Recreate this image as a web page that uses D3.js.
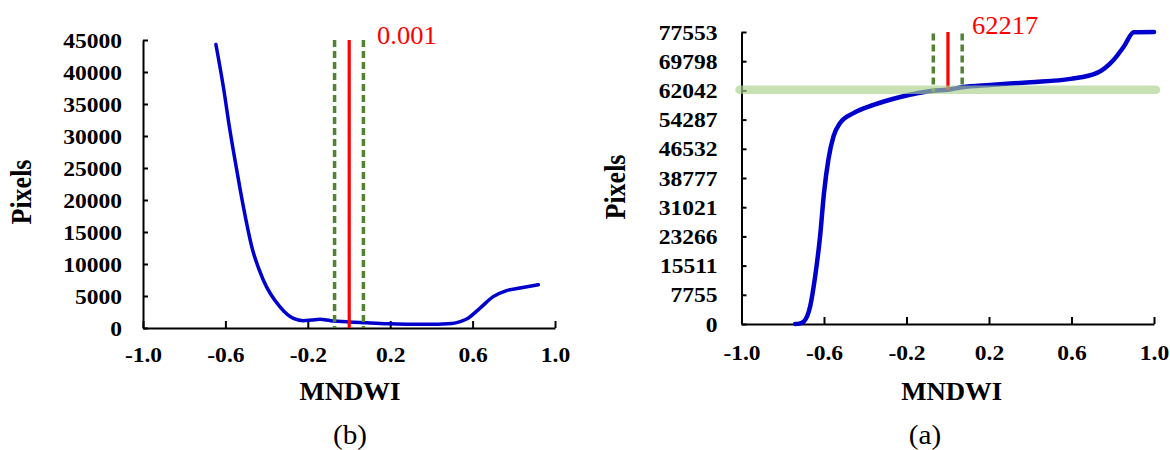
<!DOCTYPE html>
<html><head><meta charset="utf-8">
<script src="https://cdn.jsdelivr.net/npm/d3@7"></script>
<style>
body{margin:0;background:#fff}
svg{display:block}
text{font-family:"Liberation Serif","Times New Roman",serif}
</style>
</head><body>
<svg id="chart" width="1170" height="450"></svg>
<script>
// ---------- data ----------
const xTickValues = [-1.0, -0.6, -0.2, 0.2, 0.6, 1.0];
const leftYTicks = [0, 5000, 10000, 15000, 20000, 25000, 30000, 35000, 40000, 45000];
const rightYTicks = [0, 7755, 15511, 23266, 31021, 38777, 46532, 54287, 62042, 69798, 77553];

// (b) histogram-like curve
const leftCurveX = [-0.646, -0.61, -0.578, -0.545, -0.513, -0.472, -0.416, -0.335, -0.27, -0.222, -0.18, -0.141, -0.09, 0.0, 0.086, 0.2, 0.31, 0.4, 0.5, 0.54, 0.571, 0.636, 0.7, 0.765, 0.83, 0.919];
const leftCurveY = [44300, 37700, 30900, 24700, 19000, 12700, 7500, 3300, 1500, 1150, 1250, 1350, 1150, 950, 830, 650, 580, 600, 720, 1000, 1400, 3100, 4900, 5850, 6250, 6750];

// (a) cumulative curve
const rightCurveX = [-0.74, -0.72, -0.697, -0.667, -0.643, -0.619, -0.6, -0.579, -0.554, -0.522, -0.457, -0.36, -0.23, -0.072, 0.0, 0.069, 0.206, 0.4, 0.595, 0.724, 0.805, 0.854, 0.902, 1.0];
const rightCurveY = [0, 100, 700, 4700, 12600, 23300, 34800, 43600, 49800, 53400, 56000, 58200, 60300, 61960, 62217, 62900, 63500, 64200, 65100, 66700, 70200, 73700, 77500, 77553];

const thresholdX = 0.001;
const thresholdBand = [-0.07, 0.07];
const leftThresholdLabel = "0.001";
const rightThresholdValue = 62217;
const rightThresholdLabel = "62217";
const leftYMax = 45000;
const rightYMax = 77553;
const axisTitleX = "MNDWI";
const axisTitleY = "Pixels";
const panelLabels = ["(b)", "(a)"];

// ---------- drawing ----------
const svg = d3.select("#chart");
const TICK_FONT = 22, TICK_SX = 1.07;

function drawAxes(g, x, y, yTicks, xPad, yPad, y0) {
  const xa = d3.axisBottom(x).tickValues(xTickValues).tickSizeInner(-7).tickSizeOuter(0)
    .tickPadding(xPad).tickFormat(d => d.toFixed(1));
  const ya = d3.axisLeft(y).tickValues(yTicks).tickSizeInner(-5).tickSizeOuter(0)
    .tickPadding(yPad).tickFormat(d => String(d));
  const gx = g.append("g").attr("transform", `translate(0,${y0})`).call(xa);
  const gy = g.append("g").attr("transform", `translate(${x.range()[0]},0)`).call(ya);
  [gx, gy].forEach(a => {
    a.select(".domain").attr("stroke", "#000").attr("stroke-width", 2);
    a.selectAll(".tick line").attr("stroke", "#000").attr("stroke-width", 2);
    a.selectAll(".tick text").attr("fill", "#000")
      .style("font-family", '"Liberation Serif","Times New Roman",serif')
      .style("font-weight", "bold").style("font-size", TICK_FONT + "px")
      .attr("transform", `scale(${TICK_SX},1)`);
  });
}

function panel(cfg) {
  const g = svg.append("g");
  const x = d3.scaleLinear().domain([-1, 1]).range(cfg.xr);
  const y = d3.scaleLinear().domain([0, cfg.ymax]).range(cfg.yr);
  const y0 = cfg.yr[0];

  drawAxes(g, x, y, cfg.yTicks, cfg.xPad, cfg.yPad, y0);

  const line = d3.line().x(d => x(d[0])).y(d => y(d[1])).curve(d3.curveMonotoneX);
  const pts = cfg.cx.map((v, i) => [v, cfg.cy[i]]);
  g.append("path").datum(pts).attr("d", line).attr("fill", "none")
    .attr("stroke", "#0000cc").attr("stroke-width", cfg.lw).attr("stroke-linecap", "round");

  // threshold lines
  const top = cfg.lineTop, bottom = cfg.lineBottom;
  thresholdBand.forEach(v => {
    g.append("line").attr("x1", x(v)).attr("x2", x(v))
      .attr("y1", top(v, y)).attr("y2", bottom(v, y))
      .attr("stroke", "#548235").attr("stroke-width", 3.5).attr("stroke-dasharray", "7,4");
  });
  g.append("line").attr("x1", x(thresholdX)).attr("x2", x(thresholdX))
    .attr("y1", top(thresholdX, y)).attr("y2", bottom(thresholdX, y))
    .attr("stroke", "#ff0000").attr("stroke-width", 3.2);

  if (cfg.band != null) {
    g.append("line").attr("x1", x(-1) - 2).attr("x2", x(1) + 2)
      .attr("y1", y(cfg.band)).attr("y2", y(cfg.band))
      .attr("stroke", "#a9d18e").attr("stroke-opacity", 0.65)
      .attr("stroke-width", 8.5).attr("stroke-linecap", "round");
  }

  // threshold label
  g.append("text").attr("transform", `translate(${cfg.labelPos[0]},${cfg.labelPos[1]}) scale(1.04,1)`)
    .attr("fill", "#ff0000").style("font-size", "25.5px").text(cfg.label);

  // axis titles
  const cx = (cfg.xr[0] + cfg.xr[1]) / 2;
  g.append("text").attr("transform", `translate(${cx + cfg.titleDx},${cfg.titleY}) scale(1.05,1)`)
    .attr("text-anchor", "middle").style("font-weight", "bold").style("font-size", "25.5px")
    .text(axisTitleX);
  g.append("text").attr("transform", `translate(${cfg.yTitlePos[0]},${cfg.yTitlePos[1]}) scale(1.1,1) rotate(-90)`)
    .attr("text-anchor", "middle").attr("dy", "0.33em").style("font-weight", "bold").style("font-size", "26px")
    .text(axisTitleY);
  g.append("text").attr("transform", `translate(${cfg.panelPos[0]},${cfg.panelPos[1]}) scale(1.08,1)`)
    .attr("text-anchor", "middle").style("font-size", "27px").text(cfg.panelLabel);
}

panel({
  xr: [143, 555], yr: [328, 40], ymax: leftYMax, yTicks: leftYTicks,
  xPad: 18.5, yPad: 19.6, cx: leftCurveX, cy: leftCurveY, lw: 3.5,
  lineTop: (v, y) => y(leftYMax), lineBottom: (v, y) => y(0),
  band: null, label: leftThresholdLabel, labelPos: [377, 44],
  titleDx: 1, titleY: 400, yTitlePos: [22, 192], panelPos: [350, 444], panelLabel: panelLabels[0]
});

panel({
  xr: [741.5, 1154], yr: [324, 32], ymax: rightYMax, yTicks: rightYTicks,
  xPad: 20.4, yPad: 22.4, cx: rightCurveX, cy: rightCurveY, lw: 4.5,
  lineTop: (v, y) => (v === thresholdX ? y(rightYMax) : y(rightYMax) + 1.5),
  lineBottom: (v, y) => y(rightThresholdValue) + (v < 0 ? 2 : v > 0.01 ? -2 : 0),
  band: rightThresholdValue, label: rightThresholdLabel, labelPos: [972, 34],
  titleDx: 4, titleY: 400, yTitlePos: [616, 187], panelPos: [925, 444], panelLabel: panelLabels[1]
});
</script>
</body></html>
